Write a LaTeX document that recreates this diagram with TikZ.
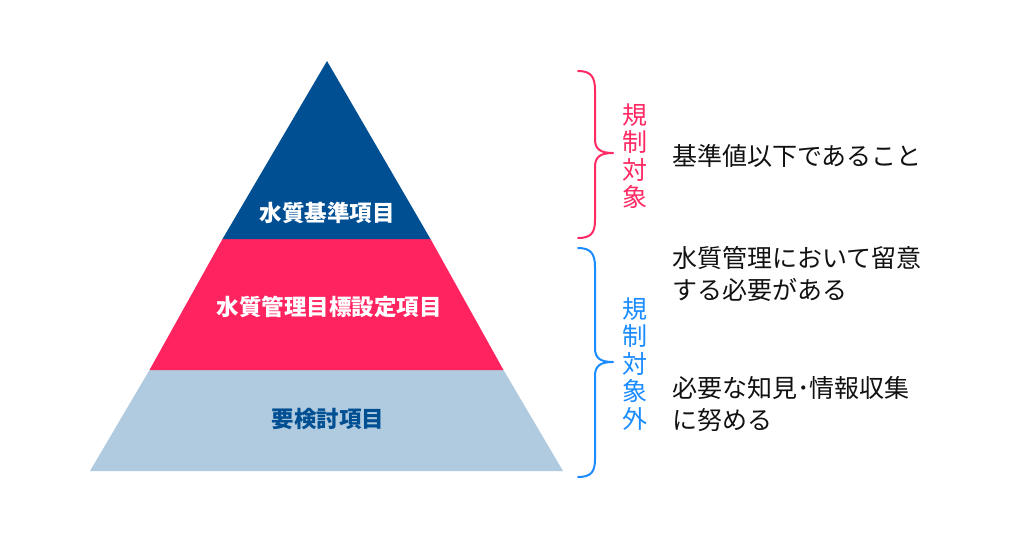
\documentclass[tikz,border=0pt]{standalone}
\usepackage{fontspec}
\newfontfamily\jp{Noto Sans CJK JP}
\definecolor{topblue}{HTML}{004F93}
\definecolor{midpink}{HTML}{FF2360}
\definecolor{lowblue}{HTML}{B0CBE0}
\definecolor{brpink}{HTML}{FF2A64}
\definecolor{brblue}{HTML}{1A8CFF}
\definecolor{txt}{HTML}{111111}
\tikzset{
  layerlabel/.style={font=\jp\bfseries\fontsize{22.5}{26}\selectfont, inner sep=0pt},
  vlabel/.style={font=\jp\fontsize{25}{27.5}\selectfont, align=center, inner sep=0pt},
  desc/.style={font=\jp\fontsize{25}{32}\selectfont, align=left, anchor=west, inner sep=0pt, text=txt},
  brace/.style={line width=2pt, line cap=round, line join=round},
}
\begin{document}
\begin{tikzpicture}[x=1pt,y=-1pt]
\fill[white] (0,0) rectangle (1024,538);
\useasboundingbox (0,0) rectangle (1024,538);
% pyramid layers
\fill[lowblue] (90,471) -- (563,471) -- (503.5,370) -- (149.5,370) -- cycle;
\fill[midpink] (149.5,370) -- (503.5,370) -- (430.5,239) -- (222.5,239) -- cycle;
\fill[topblue] (222.5,239) -- (430.5,239) -- (327,61) -- cycle;
\node[layerlabel, text=white] (l1) at (327,213) {水質基準項目};
\node[layerlabel, text=white] (l2) at (329,307) {水質管理目標設定項目};
\node[layerlabel, text=topblue] (l3) at (328,419) {要検討項目};
% braces
\draw[brace, brpink] (578,71) .. controls (591,71) and (595,77) .. (595,90) -- (595,139) .. controls (595,149) and (600,153) .. (613,153) .. controls (600,153) and (595,157) .. (595,167) -- (595,220) .. controls (595,233) and (591,238) .. (578,238);
\draw[brace, brblue] (578,248) .. controls (591,248) and (595,254) .. (595,267) -- (595,348) .. controls (595,358) and (600,362) .. (613,362) .. controls (600,362) and (595,366) .. (595,376) -- (595,459) .. controls (595,472) and (591,477) .. (578,477);
\node[vlabel, text=brpink] (v1) at (635,156) {規\\制\\対\\象};
\node[vlabel, text=brblue] (v2) at (635,364) {規\\制\\対\\象\\外};
% descriptions
\node[desc] (d1) at (672,156) {基準値以下であること};
\node[desc] (d2) at (672,274) {水質管理において留意\\する必要がある};
\node[desc] (d3) at (672,404) {必要な知見･情報収集\\に努める};
\end{tikzpicture}
\end{document}
